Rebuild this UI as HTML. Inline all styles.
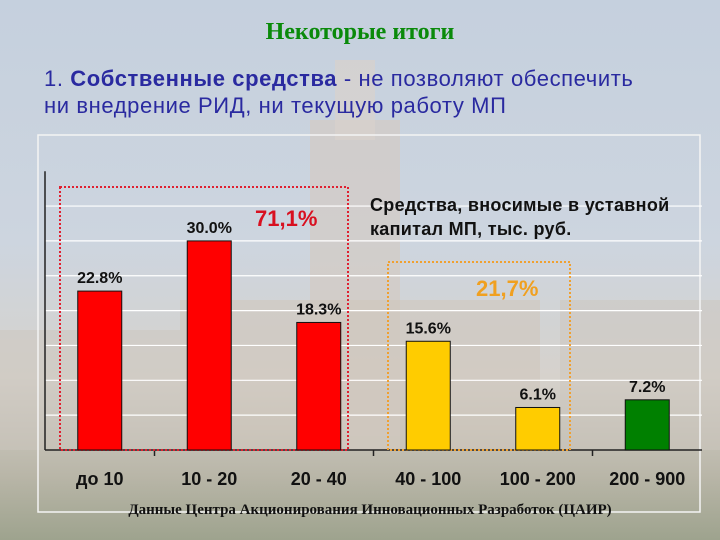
<!DOCTYPE html>
<html><head><meta charset="utf-8"><style>
body{margin:0}
#root{position:relative;width:720px;height:540px;overflow:hidden;background:linear-gradient(#c5d0de 0%,#cdd5df 45%,#d6d2cc 70%,#b9b6a8 88%,#9ea38e 100%);font-family:"Liberation Sans","Noto Sans CJK SC",sans-serif}
.t{position:absolute;white-space:nowrap}
</style></head><body>
<div id="root">
<svg width="720" height="540" style="position:absolute;left:0;top:0">
<rect x="310" y="120" width="90" height="330" fill="#d3cbc3" opacity="0.7"/>
<rect x="335" y="60" width="40" height="80" fill="#d8d2cc" opacity="0.7"/>
<rect x="180" y="300" width="360" height="150" fill="#cfc6bc" opacity="0.6"/>
<rect x="0" y="330" width="180" height="120" fill="#cbc5be" opacity="0.5"/>
<rect x="560" y="300" width="160" height="150" fill="#cbc5be" opacity="0.5"/>
<rect x="38" y="135" width="662" height="377" fill="none" stroke="#f4f4f4" stroke-width="1.5"/>
</svg>
<div class="t" style="left:0;width:720px;text-align:center;top:19px;font:bold 24px 'Liberation Serif','Noto Serif CJK SC',serif;color:#0a8a0a">Некоторые итоги</div>
<div class="t" style="left:44px;top:66px;font-size:22px;letter-spacing:0.6px;color:#2a2aa0">1. <b>Собственные средства</b>  - не позволяют обеспечить</div>
<div class="t" style="left:44px;top:93px;font-size:22px;letter-spacing:0.6px;color:#2a2aa0">ни внедрение РИД, ни текущую работу МП</div>
<svg id="chart" width="720" height="540" style="position:absolute;left:0;top:0"></svg>
<div class="t" style="left:370px;top:193px;font-weight:bold;font-size:18px;line-height:24px;letter-spacing:0.3px;color:#111">Средства, вносимые в уставной<br>капитал МП,  тыс. руб.</div>
<div class="t" style="left:255px;top:206px;font-weight:bold;font-size:22px;color:#d81020">71,1%</div>
<div class="t" style="left:476px;top:276px;font-weight:bold;font-size:22px;color:#f0a020">21,7%</div>
<div class="t" style="left:0;width:740px;text-align:center;top:502px;font:bold 15px 'Liberation Serif','Noto Serif CJK SC',serif;color:#111">Данные Центра Акционирования Инновационных Разработок (ЦАИР)</div>
</div>
<script>
const categories=["до 10","10 - 20","20 - 40","40 - 100","100 - 200","200 - 900"];
const values=[22.8,30.0,18.3,15.6,6.1,7.2];
const labels=["22.8%","30.0%","18.3%","15.6%","6.1%","7.2%"];
const colors=["#ff0000","#ff0000","#ff0000","#ffcc00","#ffcc00","#008000"];
const gridTicks=[5,10,15,20,25,30,35];
const NS="http://www.w3.org/2000/svg";
const svg=document.getElementById('chart');
const x0=45,bw=109.5,base=450,ppu=6.97;
const X=i=>x0+bw*i;
const Y=v=>base-v*ppu;
function mk(t,a){const e=document.createElementNS(NS,t);for(const k in a)e.setAttribute(k,a[k]);svg.appendChild(e);return e;}
gridTicks.forEach(g=>{const e=mk('line',{x1:x0,x2:702,y1:Y(g),y2:Y(g),stroke:'#ffffff','stroke-width':1.2});

});
let ax=mk('line',{x1:x0,x2:x0,y1:Y(40),y2:base,stroke:'#222','stroke-width':1.5});


let xa=mk('line',{x1:x0,x2:702,y1:base,y2:base,stroke:'#222','stroke-width':1.5});


[1,3,5].forEach(i=>{const e=mk('line',{x1:X(i),x2:X(i),y1:base,y2:base+6,stroke:'#222','stroke-width':1.5});

});
let r1=mk('rect',{x:60,y:187,width:288,height:base-187,fill:'none',stroke:'#e02030','stroke-width':2,'stroke-dasharray':'2 2'});


let r2=mk('rect',{x:388,y:262,width:182,height:base-262,fill:'none',stroke:'#f0a030','stroke-width':2,'stroke-dasharray':'2 2'});


values.forEach((v,i)=>{
 const cx=X(i)+bw/2;
 const b=mk('rect',{x:cx-22,y:Y(v),width:44,height:base-Y(v),fill:colors[i],stroke:'#111','stroke-width':1});
 
 
 const l=mk('text',{x:cx,y:Y(v)-8,'text-anchor':'middle','font-family':'Liberation Sans, sans-serif','font-weight':'bold','font-size':16,fill:'#111'});
 l.textContent=labels[i];
 
 
 const c=mk('text',{x:cx,y:485,'text-anchor':'middle','font-family':'Liberation Sans, Noto Sans CJK SC, sans-serif','font-weight':'bold','font-size':18,fill:'#111'});
 c.textContent=categories[i];
 
 
});
</script>
</body></html>
